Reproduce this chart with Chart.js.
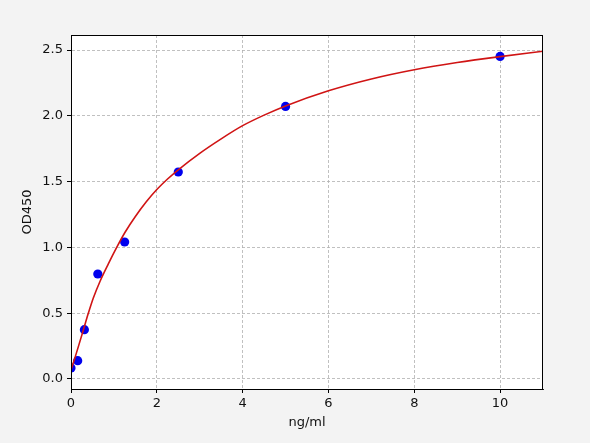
<!DOCTYPE html>
<html>
<head>
<meta charset="utf-8">
<script src="https://cdn.jsdelivr.net/npm/chart.js@4/dist/chart.umd.min.js"></script>
<style>
  html, body { margin: 0; padding: 0; background: #f3f3f3; }
  #wrap { width: 590px; height: 443px; }
</style>
</head>
<body>
<div id="wrap"><canvas id="myChart" width="590" height="443"></canvas></div>
<script>
// standards (measured points)
const concentrations = [0, 0.156, 0.312, 0.625, 1.25, 2.5, 5, 10];
const odValues = [0.084, 0.139, 0.375, 0.798, 1.041, 1.573, 2.071, 2.451];

// fitted curve
const curveX = [0, 0.1, 0.29, 0.40, 0.52, 0.68, 0.87, 1.065, 1.26, 1.5, 1.75, 2, 2.25, 2.5, 3, 3.5, 4, 4.5, 5, 6, 7, 8, 9, 10, 11];
const curveY = [0.07, 0.17, 0.375, 0.495, 0.615, 0.745, 0.875, 1.0, 1.115, 1.235, 1.345, 1.44, 1.52, 1.59, 1.715, 1.825, 1.925, 2.005, 2.075, 2.19, 2.28, 2.35, 2.405, 2.45, 2.49];

const xTicks = [0, 2, 4, 6, 8, 10];
const yTicks = [0, 0.5, 1.0, 1.5, 2.0, 2.5];

const tickFont = { family: 'DejaVu Sans', size: 13 };

// white plot area and black frame like the original
const frame = {
  id: 'frame',
  beforeDraw(chart) {
    const a = chart.chartArea, c = chart.ctx;
    c.save();
    c.fillStyle = '#ffffff';
    c.fillRect(a.left, a.top, a.right - a.left, a.bottom - a.top);
    c.restore();
  },
  afterDraw(chart) {
    const a = chart.chartArea, c = chart.ctx;
    c.save();
    c.strokeStyle = '#000000';
    c.lineWidth = 1;
    c.strokeRect(a.left + 0.5, a.top + 0.5, a.right - a.left - 1, a.bottom - a.top);
    c.restore();
  }
};

const gridOpts = {
  color: '#b0b0b0',
  lineWidth: 0.8,
  drawTicks: true,
  tickLength: 4,
  tickColor: '#000',
  tickBorderDash: [],
  tickWidth: 1
};

const ctx = document.getElementById('myChart').getContext('2d');
const chart = new Chart(ctx, {
  type: 'scatter',
  data: {
    datasets: [{
      type: 'line',
      label: 'fit',
      data: curveX.map((x, i) => ({ x: x, y: curveY[i] })),
      borderColor: '#d01414',
      borderWidth: 1.6,
      pointRadius: 0,
      fill: false,
      cubicInterpolationMode: 'monotone',
      order: 0
    }, {
      label: 'standards',
      data: concentrations.map((x, i) => ({ x: x, y: odValues[i] })),
      backgroundColor: '#0000ee',
      borderWidth: 0,
      pointRadius: 4.6,
      order: 1
    }]
  },
  options: {
    responsive: false,
    devicePixelRatio: 1,
    animation: false,
    layout: { padding: { left: 0, right: 47, top: 35, bottom: 0 } },
    plugins: { legend: { display: false }, tooltip: { enabled: false } },
    scales: {
      x: {
        type: 'linear',
        min: 0,
        max: 11,
        afterFit(scale) { scale.height = 54; },
        afterBuildTicks(scale) { scale.ticks = xTicks.map(v => ({ value: v })); },
        ticks: {
          color: '#111',
          font: tickFont,
          padding: 3,
          maxRotation: 0,
          callback: v => String(v)
        },
        grid: gridOpts,
        border: { display: true, color: '#000', width: 1, dash: [3, 2] },
        title: {
          display: true,
          text: 'ng/ml',
          color: '#111',
          font: tickFont,
          padding: { top: 0, bottom: 13 }
        }
      },
      y: {
        type: 'linear',
        min: -0.076,
        max: 2.614,
        afterFit(scale) { scale.width = 71; },
        afterBuildTicks(scale) { scale.ticks = yTicks.map(v => ({ value: v })); },
        ticks: {
          color: '#111',
          font: tickFont,
          padding: 4,
          callback: v => Number(v).toFixed(1)
        },
        grid: gridOpts,
        border: { display: true, color: '#000', width: 1, dash: [3, 2] },
        title: {
          display: true,
          text: 'OD450',
          color: '#111',
          font: tickFont,
          padding: { top: 20, bottom: 0 }
        }
      }
    }
  },
  plugins: [frame]
});
</script>
</body>
</html>
